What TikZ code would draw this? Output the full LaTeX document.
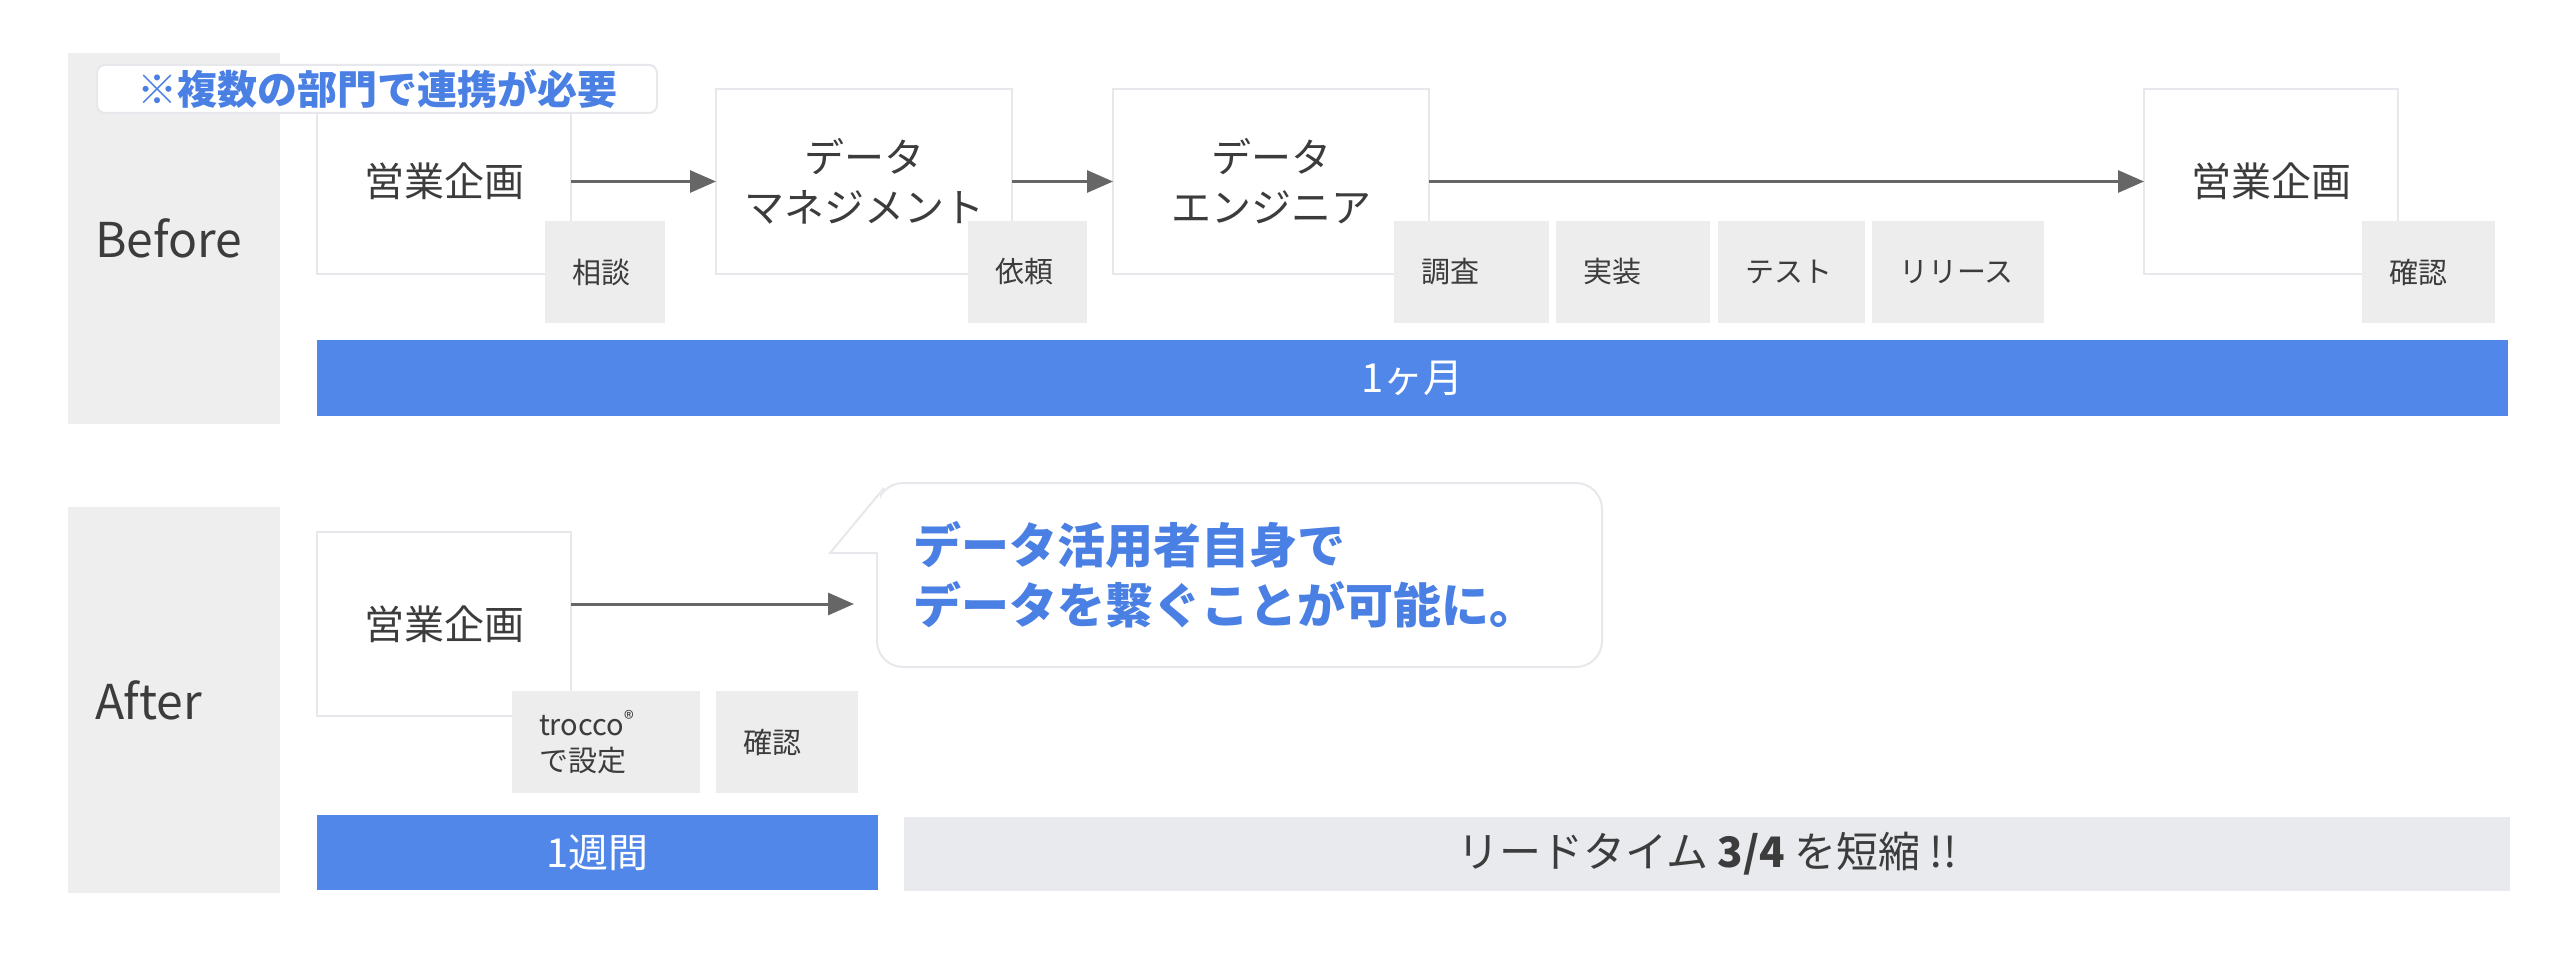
\documentclass[tikz,border=0pt]{standalone}
\usepackage{fontspec}
\setmainfont{Noto Sans CJK JP}
\usepackage{tikz}
\usetikzlibrary{arrows.meta}
\definecolor{panelgrey}{HTML}{EEEEEE}
\definecolor{stepgrey}{HTML}{EDEDED}
\definecolor{boxline}{HTML}{E6E8EB}
\definecolor{barblue}{HTML}{5087E8}
\definecolor{bargrey}{HTML}{E8EAED}
\definecolor{noteblue}{HTML}{4A7FE3}
\definecolor{inkgrey}{HTML}{3C3C3C}
\definecolor{arrowgrey}{HTML}{666666}

\begin{document}
\begin{tikzpicture}[x=1pt,y=-1pt,
    every node/.style={inner sep=0pt,outer sep=0pt,text=inkgrey},
    stagepanel/.style={fill=panelgrey,anchor=north west,align=left,inner xsep=27pt,text width=158pt,minimum height=#1,font=\fontsize{48}{58}\selectfont},
    mainbox/.style={draw=boxline,line width=2pt,fill=white,anchor=north west,align=center,minimum height=185pt,font=\fontsize{40}{50}\selectfont},
    stepbox/.style={fill=stepgrey,anchor=north west,align=left,inner xsep=27pt,minimum height=102pt,font=\fontsize{29}{36}\selectfont},
    bar/.style={fill=barblue,text=white,anchor=north west,minimum height=76pt,font=\fontsize{40}{50}\selectfont},
    memo/.style={draw=boxline,line width=2pt,fill=white,rounded corners=8pt,anchor=north west,minimum width=560pt,minimum height=48pt,text=noteblue,font=\bfseries\fontsize{40}{48}\selectfont},
    bubble/.style={draw=boxline,line width=2pt,fill=white,rounded corners=26pt,anchor=north west,align=left,inner xsep=36pt,text width=653pt,minimum height=184pt,text=noteblue,font=\bfseries\fontsize{48}{60}\selectfont},
    flow/.style={draw=arrowgrey,line width=3pt,-{Triangle[length=26pt,width=22pt]}}]
    \useasboundingbox (0,0) rectangle (2574,963);

    \node[stagepanel=371pt] (before) at (68,53) {Before};
    \node[stagepanel=386pt] (after) at (68,507) {After};

    \node[mainbox,minimum width=254pt] (plan) at (317,89) {営業企画};
    \node[mainbox,minimum width=296pt] (mgmt) at (716,89) {データ\\マネジメント};
    \node[mainbox,minimum width=316pt] (eng) at (1113,89) {データ\\エンジニア};
    \node[mainbox,minimum width=254pt] (check) at (2144,89) {営業企画};

    \node[stepbox,text width=66pt] (consult) at (545,221) {相談};
    \node[stepbox,text width=65pt] (request) at (968,221) {依頼};
    \node[stepbox,text width=101pt] (survey) at (1394,221) {調査};
    \node[stepbox,text width=100pt] (build) at (1556,221) {実装};
    \node[stepbox,text width=93pt] (test) at (1718,221) {テスト};
    \node[stepbox,text width=118pt] (release) at (1872,221) {リリース};
    \node[stepbox,text width=79pt] (confirm) at (2362,221) {確認};

    \node[memo] (memo) at (97,65) {※複数の部門で連携が必要};

    \draw[flow] (plan) -- (mgmt);
    \draw[flow] (mgmt) -- (eng);
    \draw[flow] (eng) -- (check);

    \node[bar,minimum width=2191pt] (month) at (317,340) {1ヶ月};

    \node[mainbox,minimum width=254pt,minimum height=184pt] (plan2) at (317,532) {営業企画};
    \node[stepbox,text width=134pt] (trocco) at (512,691) {trocco\textsuperscript{®}\\で設定};
    \node[stepbox,text width=88pt] (confirm2) at (716,691) {確認};

    \node[bubble] (msg) at (877,483) {データ活用者自身で\\データを繋ぐことが可能に。};
    \fill[white] (884,488) -- (830,553) -- (880,553) -- (880,488) -- cycle;
    \draw[boxline,line width=2pt] (884,488) -- (830,553) -- (878,553);

    \coordinate (reach) at (854,604);
    \draw[flow] (plan2.east |- reach) -- (reach);

    \node[bar,minimum width=561pt,minimum height=75pt] (week) at (317,815) {1週間};
    \node[bar,fill=bargrey,text=inkgrey,minimum width=1606pt,minimum height=74pt,font=\fontsize{42}{50}\selectfont] (lead) at (904,817) {リードタイム {\bfseries 3/4} を短縮 !!};

\end{tikzpicture}
\end{document}
